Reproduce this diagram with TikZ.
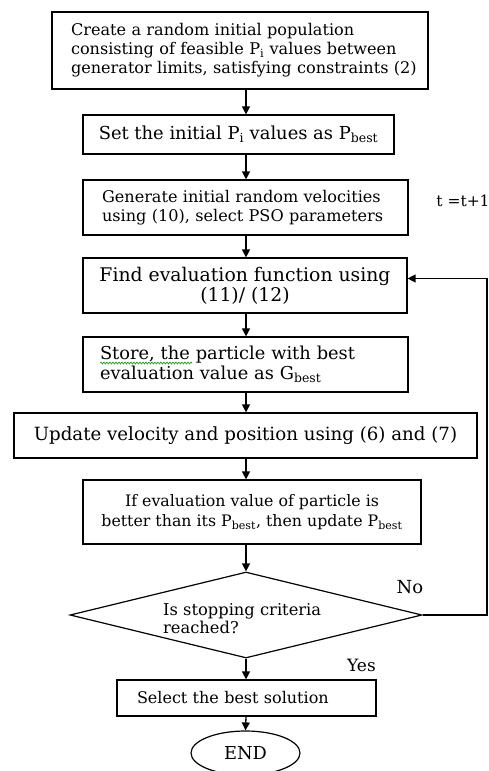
\documentclass[tikz,border=0pt]{standalone}
\usepackage{fontspec}
\setmainfont{DejaVu Serif}
\usetikzlibrary{arrows.meta,shapes.geometric,decorations.pathmorphing}
\newcommand{\fsz}[2]{\fontsize{#1}{#2}\selectfont}
\tikzset{
  box/.style={draw, line width=1.2pt, inner sep=0pt},
  arr/.style={-{Triangle[length=8pt,width=8pt]}, line width=1.3pt},
  lbl/.style={inner sep=0pt},
}
\begin{document}
\begin{tikzpicture}[x=1pt,y=-1pt]
\useasboundingbox (0,0) rectangle (489,771);
\fill[white] (0,0) rectangle (489,771);
\coordinate (ax) at (246,0);
\coordinate (fb) at (487,0);

\node[box, font=\fsz{16.1}{19}, minimum height=77pt, inner xsep=19pt, text width=338pt, align=left] (b1) at (240,50.5)
  {\mbox{Create a random initial population}\\\mbox{consisting of feasible P\textsubscript{i} values between}\\\mbox{generator limits, satisfying constraints (2)}};
\node[box, font=\fsz{17.9}{20}, minimum width=311pt, minimum height=39pt, align=center] (b2) at (238.5,134.5)
  {Set the initial P\textsubscript{i} values as P\textsubscript{best}};
\node[box, font=\fsz{16.1}{18.5}, minimum height=55pt, inner xsep=19pt, text width=287pt, align=left] (b3) at (245.5,207.5)
  {\mbox{Generate initial random velocities}\\\mbox{using (10), select PSO parameters}};
\node[box, font=\fsz{18.8}{20}, minimum width=324pt, minimum height=55pt, align=center] (b4) at (245,285.5)
  {Find evaluation function using\\(11)/ (12)};
\node[box, font=\fsz{17.8}{20}, minimum height=55pt, inner xsep=17pt, text width=291pt, align=left] (b5) at (245.5,364.5)
  {\mbox{Store, the particle with best}\\\mbox{evaluation value as G\textsubscript{best}}};
\node[box, font=\fsz{18.2}{20}, minimum width=463pt, minimum height=45pt, align=center] (b6) at (245.5,435.5)
  {Update velocity and position using (6) and (7)};
\node[box, font=\fsz{15.8}{20}, minimum width=338pt, minimum height=64pt, align=center] (b7) at (252,512)
  {If evaluation value of particle is\\better than its P\textsubscript{best}, then update P\textsubscript{best}};
\node[draw, diamond, line width=1.2pt, inner sep=0pt, minimum width=352pt, minimum height=86pt] (d) at (246,615) {};
\node[lbl, font=\fsz{16.3}{18}, align=left, anchor=west] (dt) at (163,619) {Is stopping criteria\\reached?};
\node[box, font=\fsz{16}{19}, minimum height=36pt, inner xsep=20pt, text width=219pt, align=left] (b8) at (246.5,698)
  {\mbox{Select the best solution}};
\node[draw, ellipse, line width=1.2pt, inner sep=0pt, minimum width=109pt, minimum height=44pt, font=\fsz{17.8}{20}] (e) at (245.5,753) {END};

\node[lbl, font=\fsz{15.5}{18}] (t) at (463,201) {t =t+1};
\node[lbl, font=\fsz{18}{20}] (no) at (410,587) {No};
\node[lbl, font=\fsz{17}{20}] (yes) at (361.5,665) {Yes};

\draw[arr] (b1.south -| ax) -- (b2.north -| ax);
\draw[arr] (b2.south -| ax) -- (b3.north -| ax);
\draw[arr] (b3.south -| ax) -- (b4.north -| ax);
\draw[arr] (b4.south -| ax) -- (b5.north -| ax);
\draw[arr] (b5.south -| ax) -- (b6.north -| ax);
\draw[arr] (b6.south -| ax) -- (b7.north -| ax);
\draw[arr] (b7.south -| ax) -- (d.north);
\draw[arr] (d.south) -- (b8.north -| ax);
\draw[arr] (b8.south -| ax) -- (e.north);
\draw[arr] (d.east) -- (d.east -| fb) -- ([yshift=7pt]b4.east -| fb) -- ([yshift=7pt]b4.east);

\draw[green!60!black, line width=0.6pt, decorate, decoration={snake, amplitude=1pt, segment length=3pt}] (100,363) -- (192,363);
\end{tikzpicture}
\end{document}
